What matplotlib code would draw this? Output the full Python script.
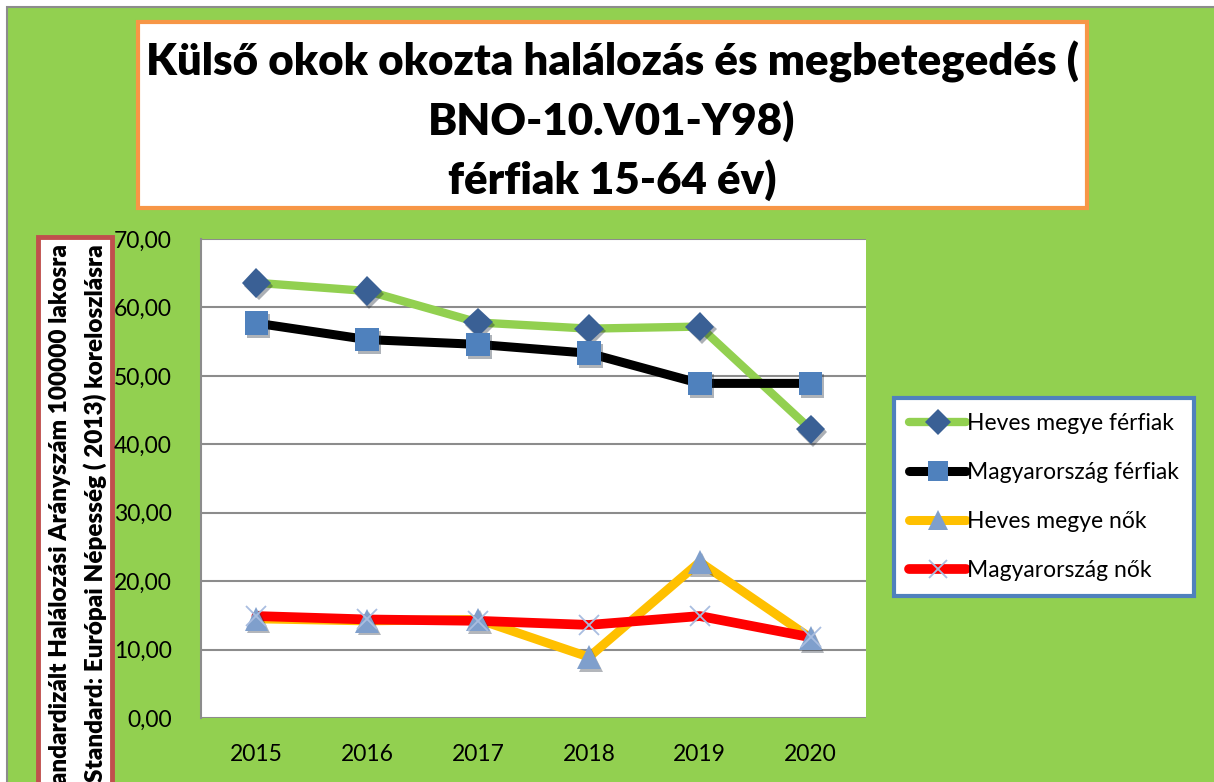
import matplotlib
matplotlib.use("Agg")
import matplotlib.pyplot as plt
from matplotlib.patches import Rectangle
from matplotlib.lines import Line2D
import matplotlib.patheffects as pe

years = ["2015", "2016", "2017", "2018", "2019", "2020"]
heves_ferfi = [63.6, 62.4, 57.8, 56.9, 57.2, 42.2]
mo_ferfi = [57.7, 55.3, 54.6, 53.3, 48.9, 48.9]
heves_no = [14.5, 14.2, 14.4, 8.9, 22.8, 11.7]
mo_no = [14.9, 14.4, 14.2, 13.6, 14.9, 11.8]
yticks = [0, 10, 20, 30, 40, 50, 60, 70]
ytick_labels = ["0,00", "10,00", "20,00", "30,00", "40,00", "50,00", "60,00", "70,00"]
labels = ["Heves megye férfiak", "Magyarország férfiak", "Heves megye nők", "Magyarország nők"]

W, H = 1214, 782
fig = plt.figure(figsize=(W / 100, H / 100), dpi=100)
fig.patch.set_facecolor("white")
FONT = ["Lato", "DejaVu Sans"]

def fx(px):
    return px / W

def fy(py):
    return 1 - py / H

# chart area background with grey border
fig.patches.append(Rectangle((fx(7), fy(H + 10)), fx(W + 10), fy(7) - fy(H + 10),
                             transform=fig.transFigure, facecolor="#92D050",
                             edgecolor="#8C8C8C", linewidth=1.5, zorder=0))

# title box
fig.patches.append(Rectangle((fx(138), fy(208)), fx(1087 - 138), fy(22) - fy(208),
                             transform=fig.transFigure, facecolor="white",
                             edgecolor="#F79646", linewidth=3, zorder=1))
title_lines = ["Külső okok okozta halálozás és megbetegedés (", "BNO-10.V01-Y98)", "férfiak 15-64 év)"]
for i, t in enumerate(title_lines):
    fig.text(fx(612), fy(62 + i * 59), t, ha="center", va="center", fontsize=31.5,
             fontweight="heavy", family=FONT, zorder=2)

# y-label box
fig.patches.append(Rectangle((fx(38), fy(H + 10)), fx(112 - 38), fy(237) - fy(H + 10),
                             transform=fig.transFigure, facecolor="white",
                             edgecolor="#C0504D", linewidth=3.5, zorder=1))
fig.text(fx(60), fy(244), "Standardizált Halálozási Arányszám 100000 lakosra", rotation=90,
         ha="center", va="top", fontsize=17.5, fontweight="heavy", family=FONT, zorder=2)
fig.text(fx(95), fy(244), "Standard: Európai Népesség ( 2013) koreloszlásra", rotation=90,
         ha="center", va="top", fontsize=17.5, fontweight="heavy", family=FONT, zorder=2)

# axes
ax = fig.add_axes([fx(201), fy(718), fx(866 - 201), fy(239) - fy(718)])
ax.set_zorder(5)
ax.set_facecolor("white")
x = list(range(len(years)))
shadow = [pe.SimplePatchShadow(offset=(1.5, -2), alpha=0.35), pe.Normal()]

series = [
    (heves_ferfi, "#92D050", "D", "#3A6095", 15, 6),
    (mo_ferfi, "black", "s", "#4F81BD", 17, 6.5),
    (heves_no, "#FFC000", "^", "#7F9FCC", 17, 6.5),
    (mo_no, "#FF0000", "x", "#A9BDE0", 15, 7),
]
handles = []
for vals, lc, mk, mc, ms, lw in series:
    ax.plot(x, vals, color=lc, linewidth=lw, solid_capstyle="round", solid_joinstyle="round", zorder=3)
for vals, lc, mk, mc, ms, lw in series:
    mew = 1.3 if mk == "x" else 0
    ax.plot(x, vals, linestyle="none", marker=mk, markersize=ms, markerfacecolor=mc,
            markeredgecolor=mc, markeredgewidth=mew, zorder=4, path_effects=shadow if mk != "x" else None)
    handles.append(Line2D([0], [0], color=lc, linewidth=lw, solid_capstyle="round", marker=mk,
                          markersize=ms * 0.85, markerfacecolor=mc, markeredgecolor=mc,
                          markeredgewidth=mew))

ax.set_xlim(-0.5, len(years) - 0.5)
ax.set_ylim(0, 70)
ax.set_yticks(yticks)
ax.set_yticklabels(ytick_labels, family=FONT, fontsize=16.5)
ax.set_xticks(x)
ax.set_xticklabels(years, family=FONT, fontsize=16.5)
ax.tick_params(axis="both", length=0)
ax.tick_params(axis="y", pad=21)
ax.tick_params(axis="x", pad=19)
ax.yaxis.grid(True, color="#8C8C8C", linewidth=1.5)
ax.set_axisbelow(True)
for s in ["top", "right", "bottom"]:
    ax.spines[s].set_visible(False)
ax.spines["left"].set_color("#8C8C8C")
ax.spines["left"].set_linewidth(1.5)

leg = fig.legend(handles, labels, loc="upper left",
                 bbox_to_anchor=(fx(894), fy(398)), bbox_transform=fig.transFigure,
                 frameon=True, fancybox=False, framealpha=1, prop={"family": FONT, "size": 16.5},
                 handlelength=2.5, handletextpad=0.05, labelspacing=1.22,
                 borderpad=0.65, borderaxespad=0)
leg.get_frame().set_edgecolor("#4F81BD")
leg.get_frame().set_linewidth(3)
leg.set_zorder(6)

fig.savefig("out.png", dpi=100)
